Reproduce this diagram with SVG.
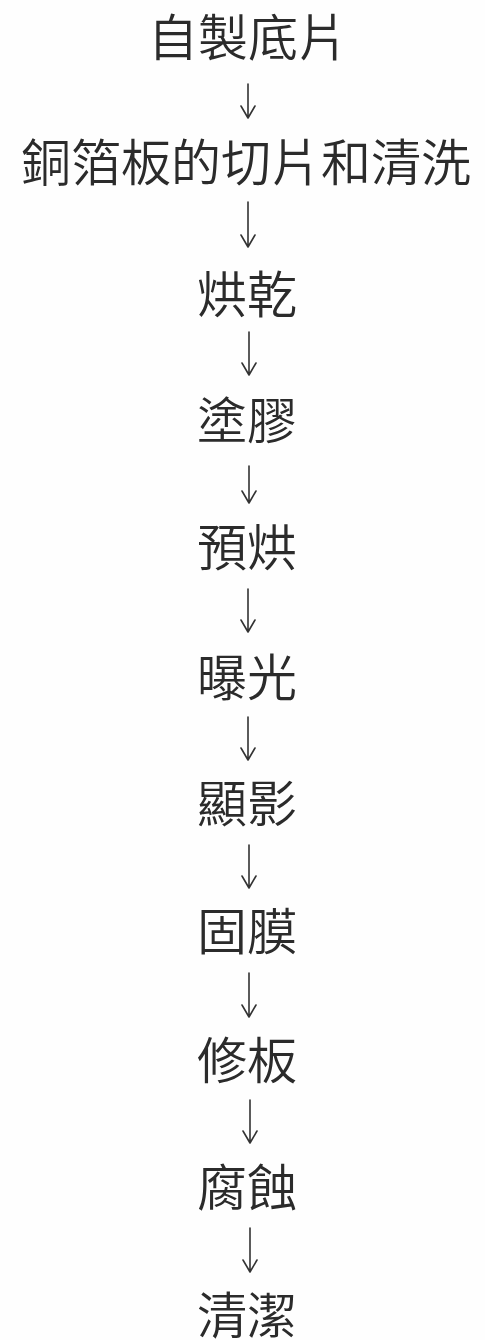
<svg xmlns="http://www.w3.org/2000/svg" width="485" height="1340" viewBox="0 0 485 1340">
<style>
.t{font-family:"Noto Sans CJK TC","Noto Sans CJK SC",sans-serif;font-size:50px;font-weight:350;fill:#2b2b2b;text-anchor:middle;dominant-baseline:central}
.c{stroke:#333;stroke-width:1.6;fill:none;stroke-linecap:round;stroke-linejoin:round}
</style>
<rect width="485" height="1340" fill="#fefefe"/>
<g id="n1"><text class="t" x="248" y="34">自製底片</text></g>
<g id="n2"><text class="t" x="246" y="159" font-size="52">銅箔板的切片和清洗</text></g>
<g id="n3"><text class="t" x="247" y="291">烘乾</text></g>
<g id="n4"><text class="t" x="247" y="417">塗膠</text></g>
<g id="n5"><text class="t" x="247" y="544">預烘</text></g>
<g id="n6"><text class="t" x="247" y="674">曝光</text></g>
<g id="n7"><text class="t" x="247" y="800">顯影</text></g>
<g id="n8"><text class="t" x="247" y="928">固膜</text></g>
<g id="n9"><text class="t" x="247" y="1057">修板</text></g>
<g id="n10"><text class="t" x="247" y="1184">腐蝕</text></g>
<g id="n11"><text class="t" x="247" y="1312">清潔</text></g>
<g id="connectors">
<path class="c" d="M248 84V118M241 106L248 118L255 106"/>
<path class="c" d="M248 202V247M241 235L248 247L255 235"/>
<path class="c" d="M249 332V375M242 363L249 375L256 363"/>
<path class="c" d="M249 466V503M242 491L249 503L256 491"/>
<path class="c" d="M248 589V632M241 620L248 632L255 620"/>
<path class="c" d="M248 717V760M241 748L248 760L255 748"/>
<path class="c" d="M249 845V888M242 876L249 888L256 876"/>
<path class="c" d="M249 973V1017M242 1005L249 1017L256 1005"/>
<path class="c" d="M250 1100V1143M243 1131L250 1143L257 1131"/>
<path class="c" d="M250 1228V1272M243 1260L250 1272L257 1260"/>
</g>
</svg>
